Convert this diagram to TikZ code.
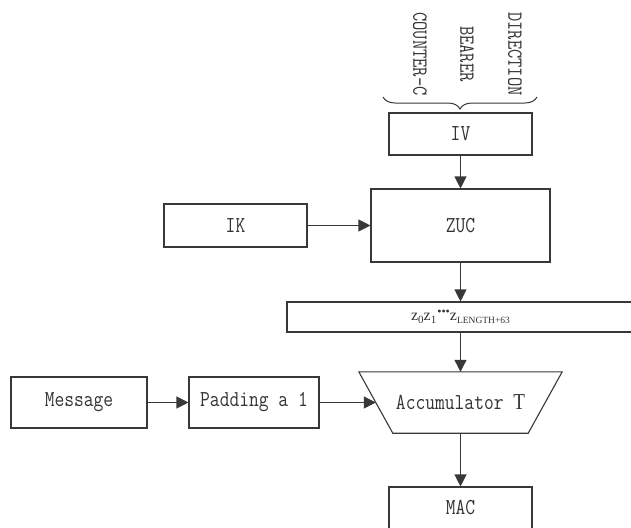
\documentclass[tikz,border=0pt]{standalone}
\usepackage{fontspec}
\usepackage{graphicx}
\newfontfamily\tmsfont{Liberation Serif}
\newcommand{\tx}[1]{\scalebox{1}[1.2]{#1}}
\usetikzlibrary{arrows.meta,decorations.pathreplacing}
\begin{document}
\begin{tikzpicture}[x=1pt,y=-1pt,
  ln/.style={line width=1.1pt, draw=black!78},
  txt/.style={text=black!80, font=\ttfamily\fontsize{19}{22}\selectfont},
  box/.style={ln, rectangle, inner sep=0pt, txt},
  vlab/.style={rotate=-90, inner sep=0pt, txt, font=\ttfamily\fontsize{18}{22}\selectfont},
  arr/.style={ln, -{Triangle[length=12pt,width=12pt]}}]
\useasboundingbox (0,0) rectangle (631,527);
\clip (0,0) rectangle (631,527);
% vertical labels and brace
\node[vlab] (cc) at (420,54) {\tx{COUNTER-C}};
\node[vlab] (br) at (467,54) {\tx{BEARER}};
\node[vlab] (dir) at (515,54) {\tx{DIRECTION}};
\coordinate (bl) at (383,97);
\coordinate (brr) at (537,97);
\draw[ln, line width=1pt, decorate, decoration={brace, amplitude=12pt}] (brr) -- (bl);
% boxes
\node[box, minimum width=143, minimum height=42] (iv) at (460.5,134) {\tx{IV}};
\node[box, minimum width=179, minimum height=73] (zuc) at (460.5,225.5) {\tx{ZUC}};
\node[box, minimum width=143, minimum height=43] (ik) at (235.5,225.5) {\tx{IK}};
\node[box, minimum width=347, minimum height=30, font=\tmsfont\fontsize{16}{18}\selectfont] (zs) at (460.5,317)
  {z\raisebox{-2.5pt}{\fontsize{11}{11}\selectfont 0}z\raisebox{-2.5pt}{\fontsize{11}{11}\selectfont 1}\hspace{1pt}\raisebox{5pt}{\fontsize{12}{12}\selectfont\textbullet\textbullet\textbullet}z\raisebox{-2.5pt}{\fontsize{9.5}{10}\selectfont LENGTH+63}};
\node[box, minimum width=136, minimum height=51] (msg) at (79,402.5) {\tx{Message}};
\node[box, minimum width=130, minimum height=51] (pad) at (254,402.5) {\tx{Padding a 1}};
\node[txt, inner sep=0pt, minimum width=203, minimum height=61] (acc) at (460.5,402.5) {\tx{Accumulator {\tmsfont T}}};
\draw[ln] (acc.north west) -- (acc.north east) -- ([xshift=-34pt]acc.south east) -- ([xshift=34pt]acc.south west) -- cycle;
\coordinate (accin) at ([xshift=17pt]acc.west);
\node[box, minimum width=143, minimum height=42] (mac) at (460.5,508) {\tx{MAC}};
% connectors
\draw[arr] (iv) -- (zuc);
\draw[arr] (ik) -- (zuc);
\draw[arr] (zuc) -- (zs);
\draw[arr] (zs) -- (acc);
\draw[arr] (msg) -- (pad);
\draw[arr] (pad) -- (accin);
\draw[arr] (acc) -- (mac);
\end{tikzpicture}
\end{document}
